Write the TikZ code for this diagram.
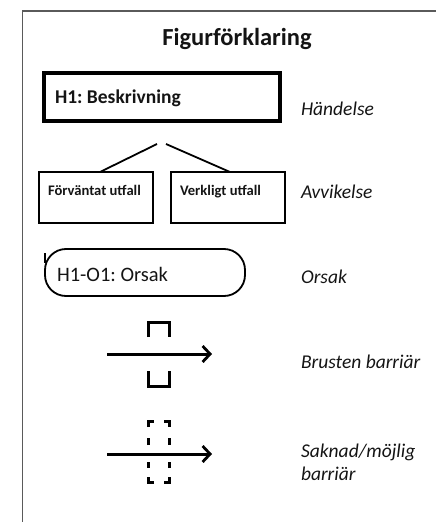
\documentclass[tikz,border=0pt]{standalone}
\usepackage{fontspec}
\setmainfont{Carlito}
\usetikzlibrary{arrows.meta}
\definecolor{ink}{HTML}{141414}
\definecolor{framegray}{HTML}{5A5A5A}
\frenchspacing
\begin{document}
\begin{tikzpicture}[x=1pt,y=-1pt,
  every node/.style={inner sep=0pt,outer sep=0pt,text=ink},
  label/.style={anchor=base west,font=\fontsize{19.5}{23}\selectfont\itshape},
  eventbox/.style={draw=black,line width=3.4pt},
  devbox/.style={draw=black,line width=1.7pt},
  causebox/.style={draw=black,line width=1.8pt,rounded corners=21pt},
  barrier/.style={line width=3.4pt,line cap=butt,line join=miter},
  flow/.style={line width=3pt,-{Straight Barb[length=7.5pt,width=16pt,line width=2.8pt]}}
]
\useasboundingbox (0,0) rectangle (436,522);

% frame
\draw[framegray,line width=1.2pt] (22.5,522) -- (22.5,11) -- (436,11);

% title
\node[anchor=base,font=\fontsize{24.5}{29}\selectfont\bfseries] (title) at (237,45) {Figurförklaring};

% event
\draw[eventbox] (44,73) rectangle (280,121);
\node[anchor=base west,font=\fontsize{19.5}{23}\selectfont\bfseries] (event) at (55,103) {H1: Beskrivning};
\node[label] (eventlbl) at (301,115) {Händelse};

% deviation
\node[devbox,minimum width=114pt,minimum height=51pt] (expected) at (96,197.5) {};
\node[devbox,minimum width=114pt,minimum height=51pt] (actual) at (228,197.5) {};
\node[anchor=base west,font=\fontsize{14.6}{17}\selectfont\bfseries] (expectedtxt) at (48,195) {Förväntat utfall};
\node[anchor=base west,font=\fontsize{14.6}{17}\selectfont\bfseries] (actualtxt) at (180,195) {Verkligt utfall};
\coordinate (apexL) at (157,144);
\coordinate (apexR) at (166,144);
\draw[line width=1.8pt] (apexL) -- (expected.north -| 100,0);
\draw[line width=1.8pt] (apexR) -- (actual.north -| 230,0);
\node[label] (devlbl) at (301,198) {Avvikelse};

% cause
\node[causebox,minimum width=200pt,minimum height=47pt] (cause) at (145,272.5) {};
\draw[line width=1.6pt] (cause.west |- 0,253) -- (cause.west |- 0,263);
\node[anchor=base west,font=\fontsize{20.5}{24}\selectfont] (causetxt) at (57,281) {H1-O1: Orsak};
\node[label] (causelbl) at (301,283) {Orsak};

% broken barrier
\draw[barrier] (148.5,337) -- (148.5,322.5) -- (169.5,322.5) -- (169.5,337);
\draw[barrier] (148.5,371) -- (148.5,386.5) -- (169.5,386.5) -- (169.5,371);
\coordinate (b1s) at (107,354);
\coordinate (b1e) at (212,354);
\draw[flow] (b1s) -- (b1e);
\node[label] (brokenlbl) at (301,368) {Brusten barriär};

% missing / possible barrier
\draw[barrier] (148.5,445) -- (148.5,438);
\draw[barrier] (148.5,427) -- (148.5,421.5) -- (154,421.5);
\draw[barrier] (164,421.5) -- (169.5,421.5) -- (169.5,427);
\draw[barrier] (169.5,438) -- (169.5,445);
\draw[barrier] (148.5,462) -- (148.5,468);
\draw[barrier] (148.5,477) -- (148.5,482.5) -- (154,482.5);
\draw[barrier] (164,482.5) -- (169.5,482.5) -- (169.5,477);
\draw[barrier] (169.5,468) -- (169.5,462);
\coordinate (b2s) at (107,454);
\coordinate (b2e) at (212,454);
\draw[flow] (b2s) -- (b2e);
\node[label] (missinglbl) at (301,457) {Saknad/möjlig};
\node[label] (missinglbl2) at (301,480) {barriär};
\end{tikzpicture}
\end{document}
